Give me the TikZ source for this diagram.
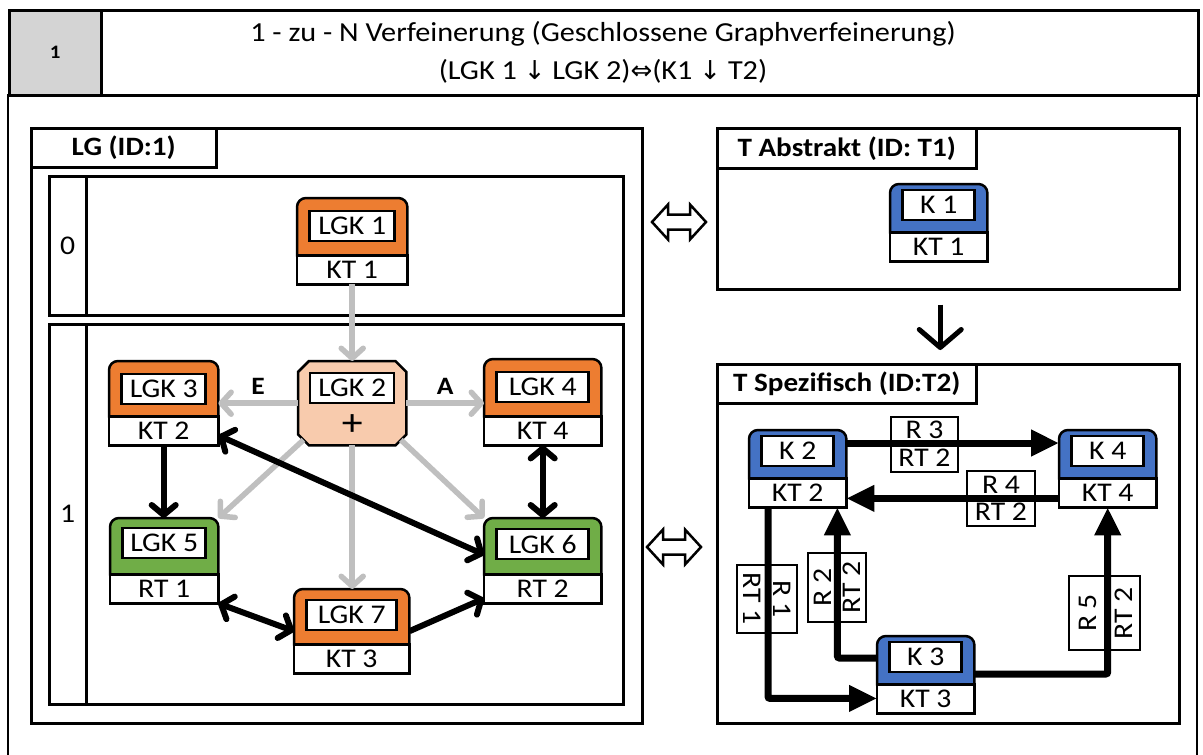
\documentclass[tikz,border=0pt]{standalone}
\usepackage{fontspec}
\setmainfont{Carlito}[FakeStretch=1.10]
\newfontfamily\symfont{DejaVu Sans}
\usetikzlibrary{arrows.meta}

\definecolor{lgorange}{HTML}{ED7D31}
\definecolor{lggreen}{HTML}{70AD47}
\definecolor{tblue}{HTML}{4472C4}
\definecolor{lgpeach}{HTML}{F8CBAD}
\definecolor{hdrgrey}{HTML}{D4D4D4}
\definecolor{flowgrey}{HTML}{BFBFBF}

\tikzset{
  txt/.style={font=\fontsize{27}{31}\selectfont, inner sep=0pt},
  boldtxt/.style={font=\fontsize{26.5}{30}\selectfont\bfseries, inner sep=0pt},
  frame/.style={draw, line width=2.5pt, inner sep=0pt, anchor=north west},
  edgelbl/.style={txt, draw, line width=1.5pt, fill=white},
  greyflow/.style={draw=flowgrey, line width=5.5pt,
    -{Straight Barb[length=10pt,width=22pt,round]}},
  blackflow/.style={draw=black, line width=6pt,
    >={Straight Barb[length=10pt,width=24pt,round]}},
  relflow/.style={draw=black, line width=7pt, rounded corners=2pt,
    -{Triangle[length=28pt,width=25pt]}},
  refine/.style={draw=black, line width=5pt,
    -{Straight Barb[length=18pt,width=42pt,round]}},
  equiv/.style={draw=black, line width=2.5pt, fill=white, line join=miter},
}

% rectangle given by its corners, drawn as a named node
\newcommand{\panelbox}[6][]{%
  \node[frame, #1, minimum width={#4-#2}, minimum height={#5-#3}] (#6) at (#2,#3) {};}

% component: coloured head with a framed name, white type field below
% #1 name, #2 left, #3 top, #4 width, #5 head height, #6 colour,
% #7 name text, #8 type text, #9 offset of the name box centre from the top
\newcommand{\compbox}[9]{%
  \node[inner sep=0pt, minimum width=#4, minimum height={#5+29}, anchor=north west] (#1) at (#2,#3) {};
  \draw[line width=2.5pt, fill=#6] ([yshift=29pt]#1.south west) [rounded corners=9pt]
    -- (#1.north west) -- (#1.north east) [sharp corners]
    -- ([yshift=29pt]#1.south east) -- cycle;
  \draw[line width=2.5pt, fill=white] (#1.south west) rectangle ([yshift=29pt]#1.south east);
  \node[txt, draw, fill=white, line width=2.5pt, minimum width={#4-25}, minimum height=30]
    (#1-name) at ([yshift=-#9pt]#1.north) {#7};
  \node[txt] (#1-type) at ([yshift=14.5pt]#1.south) {#8};}

% hollow double arrow
\newcommand{\equivsign}[2]{%
  \draw[equiv] ({#1-27},{#2}) -- ({#1-11},{#2-17.5}) -- ({#1-11},{#2-7.5})
    -- ({#1+11},{#2-7.5}) -- ({#1+11},{#2-17.5}) -- ({#1+27},{#2})
    -- ({#1+11},{#2+17.5}) -- ({#1+11},{#2+7.5}) -- ({#1-11},{#2+7.5})
    -- ({#1-11},{#2+17.5}) -- cycle;}

\begin{document}
\begin{tikzpicture}[x=1pt, y=-1pt]
\useasboundingbox (0,0) rectangle (1203,755);

% ---------- header ----------
\draw[line width=2.5pt] (8,94) -- (8,770);
\draw[line width=2.5pt] (1197,94) -- (1197,770);
\panelbox{8}{9}{1197}{94}{header}
\panelbox[fill=hdrgrey]{8}{9}{100}{94}{numcell}
\node[font=\fontsize{19}{22}\selectfont\bfseries, inner sep=0pt] (num) at (numcell.center) {1};
\node[txt, font=\fontsize{27.5}{31}\selectfont] (title1) at (603,34) {1 - zu - N Verfeinerung (Geschlossene Graphverfeinerung)};
\node[txt, font=\fontsize{27.5}{31}\selectfont] (title2) at (603,71) {(LGK 1 {\symfont\fontsize{26}{30}\selectfont ↓} LGK 2){\symfont\fontsize{26}{30}\selectfont ⇔}(K1 {\symfont\fontsize{26}{30}\selectfont ↓} T2)};

% ---------- left: LG ----------
\panelbox{30}{127}{641}{722}{lg}
\panelbox{30}{127}{215}{166}{lglabel}
\node[boldtxt] at (lglabel.center) {LG (ID:1)};

\panelbox{48}{175}{622}{314}{level0}
\panelbox{48}{175}{85}{314}{level0num}
\node[txt] at (level0num.center) {0};
\panelbox{48}{323}{622}{703}{level1}
\panelbox{48}{323}{85}{703}{level1num}
\node[txt] at (level1num.center) {1};

\compbox{lgk1}{297}{198}{110}{57}{lgorange}{LGK 1}{KT 1}{28}
\compbox{lgk3}{109}{361}{109}{55}{lgorange}{LGK 3}{KT 2}{28}
\compbox{lgk4}{484}{359}{117}{57}{lgorange}{LGK 4}{KT 4}{28}
\compbox{lgk5}{110}{518}{108}{56}{lggreen}{LGK 5}{RT 1}{25}
\compbox{lgk6}{484}{518}{117}{56}{lggreen}{LGK 6}{RT 2}{26}
\compbox{lgk7}{294}{589}{115}{55}{lgorange}{LGK 7}{KT 3}{26}

% composite node with chamfered corners
\node[inner sep=0pt, minimum width=108, minimum height=84, anchor=north west] (lgk2) at (298,361) {};
\draw[line width=2.5pt, fill=lgpeach]
  ([xshift=11pt]lgk2.north west) -- ([xshift=-11pt]lgk2.north east)
  -- ([yshift=-11pt]lgk2.north east) -- ([yshift=11pt]lgk2.south east)
  -- ([xshift=-11pt]lgk2.south east) -- ([xshift=11pt]lgk2.south west)
  -- ([yshift=11pt]lgk2.south west) -- ([yshift=-11pt]lgk2.north west) -- cycle;
\node[txt, draw, fill=white, line width=2.5pt, minimum width=84, minimum height=30]
  (lgk2-name) at ([yshift=-27pt]lgk2.north) {LGK 2};
\node[font=\fontsize{38}{42}\selectfont, inner sep=0pt] (lgk2-op) at ([yshift=-64pt]lgk2.north) {+};

% refinement (grey) edges
\draw[greyflow] (lgk1.south) -- (lgk2.north);
\draw[greyflow] (lgk2.west) -- (lgk3.east |- lgk2.west) node[midway, above=6pt, boldtxt, font=\fontsize{25}{28}\selectfont\bfseries] (e) {E};
\draw[greyflow] (lgk2.east) -- (lgk4.west |- lgk2.east) node[midway, above=6pt, boldtxt, font=\fontsize{25}{28}\selectfont\bfseries] (a) {A};
\draw[greyflow] ([shift={(5.5pt,5.5pt)}]lgk2.south west) -- (lgk5.north east);
\draw[greyflow] ([shift={(-5.5pt,5.5pt)}]lgk2.south east) -- (lgk6.north west);
\draw[greyflow] (lgk2.south) -- (lgk2.south |- lgk7.north);

% dependency (black) edges
\draw[blackflow, ->] (lgk3.south) -- (lgk3.south |- lgk5.north);
\draw[blackflow, <->] ([yshift=10pt]lgk3.south east) -- ([yshift=6pt]lgk6.west);
\draw[blackflow, <->] (lgk4.south) -- (lgk6.north);
\draw[blackflow, <->] (lgk5.south east) -- (lgk7.west);
\draw[blackflow, ->] (lgk7.east) -- ([yshift=5pt]lgk6.south west);

% ---------- equivalence signs ----------
\equivsign{679}{222}
\equivsign{674}{547}

% ---------- right: T abstract ----------
\panelbox{716}{127}{1178}{288}{tabs}
\panelbox{716}{127}{975}{167}{tabslabel}
\node[boldtxt] at (tabslabel.center) {T Abstrakt (ID: T1)};
\compbox{k1}{890}{184}{97}{48}{tblue}{K 1}{KT 1}{21}

% ---------- right: T specific ----------
\panelbox{716}{363}{1178}{722}{tspec}
\panelbox{716}{363}{975}{402}{tspeclabel}
\node[boldtxt] at (tspeclabel.center) {T Spezifisch (ID:T2)};

\draw[refine] ([xshift=-8pt,yshift=-14pt]tabs.south) -- ([xshift=-8pt,yshift=13pt]tspec.north);

\compbox{k2}{749}{430}{97}{48}{tblue}{K 2}{KT 2}{21}
\compbox{k4}{1059}{430}{97}{48}{tblue}{K 4}{KT 4}{21}
\compbox{k3}{877}{636}{97}{48}{tblue}{K 3}{KT 3}{21}

% relation labels (name above, type below the line)
\node[edgelbl, minimum width=67, minimum height=26] (r3n) at (924.5,430) {R 3};
\node[edgelbl, minimum width=67, minimum height=29] (r3t) at (924.5,457.5) {RT 2};
\node[edgelbl, minimum width=68, minimum height=27] (r4n) at (1001,484.5) {R 4};
\node[edgelbl, minimum width=68, minimum height=28] (r4t) at (1001,512) {RT 2};
\node[edgelbl, rotate=-90, minimum width=68, minimum height=29] (r1n) at (782.5,599) {R 1};
\node[edgelbl, rotate=-90, minimum width=68, minimum height=31] (r1t) at (752.5,599) {RT 1};
\node[edgelbl, rotate=90, minimum width=69, minimum height=29] (r2n) at (822.5,587.5) {R 2};
\node[edgelbl, rotate=90, minimum width=69, minimum height=29] (r2t) at (851.5,587.5) {RT 2};
\node[edgelbl, rotate=90, minimum width=74, minimum height=38] (r5n) at (1088,613) {R 5};
\node[edgelbl, rotate=90, minimum width=74, minimum height=33] (r5t) at (1123.5,613) {RT 2};

% relations
\draw[relflow] ([yshift=-13pt]k2.north east) -- ([yshift=-13pt]k4.north west);
\draw[relflow] ([yshift=9pt]k4.south west) -- ([yshift=9pt]k2.south east);
\draw[relflow] ([xshift=19pt]k2.south west) |- ([yshift=15pt]k3.south west);
\draw[relflow] ([yshift=-22pt]k3.north west) -| ([xshift=-9pt]k2.south east);
\draw[relflow] ([yshift=-38pt]k3.north east) -| (k4.south);
\end{tikzpicture}
\end{document}
